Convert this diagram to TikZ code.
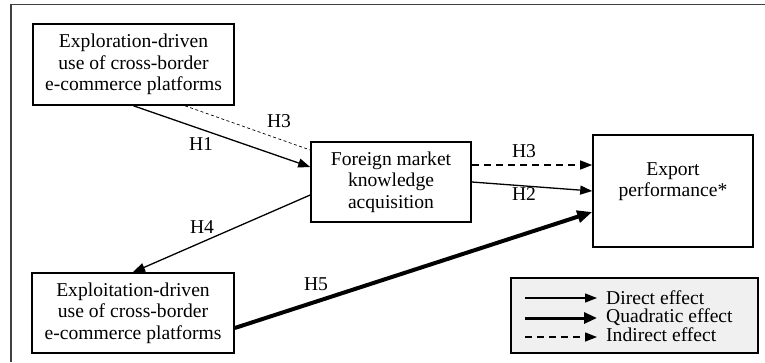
\documentclass[tikz,border=0pt]{standalone}
\usepackage{fontspec}
\setmainfont{Liberation Serif}
\usetikzlibrary{arrows.meta,calc}
\begin{document}
\begin{tikzpicture}[x=1pt,y=-1pt,
  box/.style={draw=black,line width=1.6pt,align=center,inner sep=0pt,
    font=\fontsize{19.6}{21.3}\selectfont},
  lbl/.style={inner sep=0pt,font=\fontsize{19.6}{21.3}\selectfont},
  tip/.style={-{Triangle[length=12pt,width=9pt]}},
  direct/.style={tip,line width=1.3pt},
  quad/.style={-{Triangle[length=15pt,width=12pt]},line width=4pt},
  indirect/.style={tip,line width=1.4pt,dash pattern=on 7pt off 5pt},
  thindash/.style={line width=0.7pt,dash pattern=on 3pt off 2.5pt},
  leg/.style={inner sep=0pt,anchor=west,align=left,font=\fontsize{19.6}{18.8}\selectfont}]
\useasboundingbox (0,0) rectangle (765,362);
\draw[line width=1.5pt,black!75] (11,362) -- (11,4.5) -- (765,4.5);

\node[box,minimum width=201pt,minimum height=81pt] (expl) at (133.5,64.5)
  {Exploration-driven\\use of cross-border\\e-commerce platforms};
\node[box,minimum width=160pt,minimum height=80pt] (fmk) at (391,182)
  {Foreign market\\knowledge\\acquisition};
\node[box,minimum width=160pt,minimum height=112pt] (exp) at (673,191) {};
\node[lbl,align=center] (exptext) at (673,182) {Export\\performance*};
\node[box,minimum width=202pt,minimum height=80pt] (explt) at (133,313)
  {Exploitation-driven\\use of cross-border\\e-commerce platforms};

% connectors
\draw[direct] (expl.south) -- ([yshift=15pt]fmk.west);
\draw[thindash] ([xshift=51.5pt]expl.south) -- ([yshift=32pt]fmk.west);
\draw[indirect] ([yshift=17pt]fmk.east) -- ([yshift=26pt]exp.west);
\draw[direct] (fmk.east) -- (exp.west);
\draw[direct] ([yshift=-13pt]fmk.west) -- (explt.north);
\draw[quad] ([yshift=-15pt]explt.east) -- ([yshift=-21pt]exp.west);

% labels
\node[lbl] (h3a) at (279,121) {H3};
\node[lbl] (h1) at (201,144) {H1};
\node[lbl] (h3b) at (524,151) {H3};
\node[lbl] (h2) at (524,194) {H2};
\node[lbl] (h4) at (202,227) {H4};
\node[lbl] (h5) at (316,284) {H5};

% legend
\node[draw=black,fill=black!6,line width=1.6pt,minimum width=247pt,minimum height=75pt,inner sep=0pt] (legbox) at (634.5,315.5) {};
\coordinate (d1) at (525,298);
\coordinate (d2) at (597,298);
\coordinate (q1) at (525,318);
\coordinate (q2) at (597,318);
\coordinate (i1) at (525,337);
\coordinate (i2) at (597,337);
\draw[direct] (d1) -- (d2);
\draw[-{Triangle[length=13pt,width=11pt]},line width=3pt] (q1) -- (q2);
\draw[indirect] (i1) -- (i2);
\node[leg] (legtext) at (606,316) {Direct effect\\Quadratic effect\\Indirect effect};
\end{tikzpicture}
\end{document}
